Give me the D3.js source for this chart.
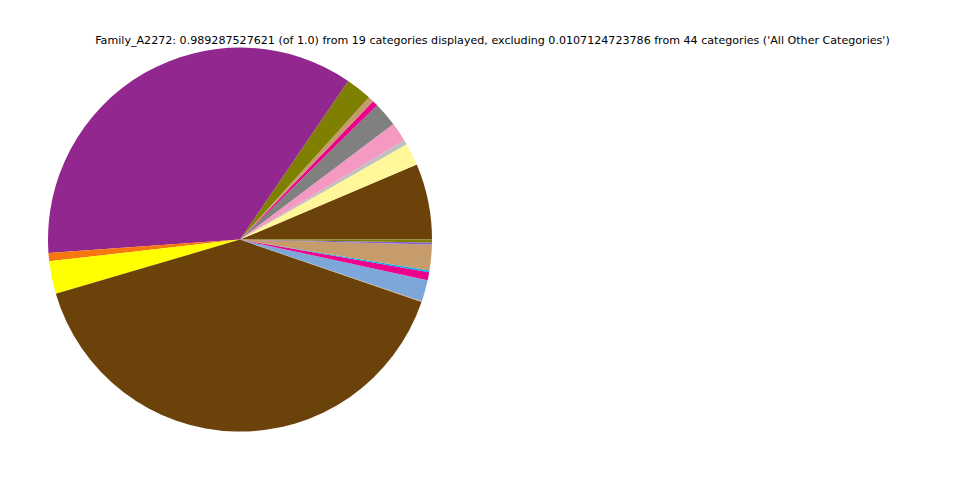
<!DOCTYPE html>
<html>
<head>
<meta charset="utf-8">
<script src="https://cdn.jsdelivr.net/npm/d3@7"></script>
<style>
  html, body { margin: 0; padding: 0; background: #ffffff; }
  svg { display: block; }
</style>
</head>
<body>
<svg id="chart" width="960" height="480"></svg>
<script>
const titleText = "Family_A2272: 0.989287527621 (of 1.0) from 19 categories displayed, excluding 0.0107124723786 from 44 categories ('All Other Categories')";

const categories = [
  "cat01", "cat02", "cat03", "cat04", "cat05", "cat06", "cat07", "cat08", "cat09", "cat10",
  "cat11", "cat12", "cat13", "cat14", "cat15", "cat16", "cat17", "cat18", "cat19"
];

const values = [
  0.06320, 0.01869, 0.00385, 0.01594, 0.02034, 0.00467, 0.00467, 0.02171, 0.35257, 0.00687,
  0.02721, 0.39736, 0.00082, 0.01786, 0.00660, 0.00137, 0.02143, 0.00165, 0.00247
];

const colors = [
  "#6b420a", "#fff799", "#c0c0c0", "#f49ac2", "#808080", "#ec008c", "#c69c6d", "#808000", "#92278f", "#f7760e",
  "#ffff00", "#6b420a", "#c69c6d", "#7da7d9", "#ec008c", "#00aeef", "#c69c6d", "#8560d0", "#808000"
];

const svg = d3.select("#chart");
const cx = 240, cy = 239.6, radius = 192;

svg.append("text")
  .attr("x", 492.5)
  .attr("y", 44)
  .attr("text-anchor", "middle")
  .attr("font-family", "DejaVu Sans")
  .attr("font-size", "11.1px")
  .attr("fill", "#000")
  .text(titleText);

const data = categories.map((c, i) => ({ name: c, value: values[i], color: colors[i] }));

// matplotlib pie: start at east (3 o'clock), counterclockwise
const pie = d3.pie()
  .value(d => d.value)
  .sort(null)
  .startAngle(Math.PI / 2)
  .endAngle(Math.PI / 2 - 2 * Math.PI);

const arc = d3.arc().innerRadius(0).outerRadius(radius);

const g = svg.append("g").attr("transform", `translate(${cx},${cy})`);

g.selectAll("path")
  .data(pie(data))
  .join("path")
  .attr("d", arc)
  .attr("fill", d => d.data.color)
  .attr("stroke", "none");
</script>
</body>
</html>
